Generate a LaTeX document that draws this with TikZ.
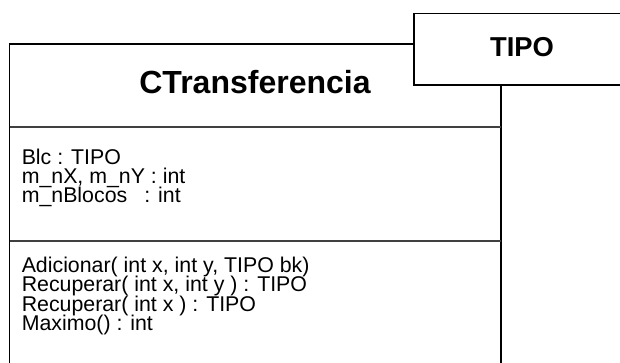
\documentclass[tikz,border=0pt]{standalone}
\usepackage{fontspec}
\setmainfont{Liberation Sans}
\begin{document}
\begin{tikzpicture}[x=0.75pt,y=-0.75pt,
  boxline/.style={line width=0.9pt,draw=black},
  sepline/.style={line width=1pt,draw=black!75},
  tipobox/.style={line width=1.4pt,draw=black,fill=white},
  member/.style={anchor=base west,inner sep=0pt,font=\fontsize{16}{19}\selectfont},
  title/.style={anchor=base,inner sep=0pt,font=\fontsize{24}{28}\bfseries\selectfont}]
\useasboundingbox (0,0) rectangle (620,362);
\clip (0,0) rectangle (620,362);
\fill[white] (0,0) rectangle (620,362);
% class box
\coordinate (clsTL) at (9.5,44);
\coordinate (clsBR) at (501,400);
\draw[boxline] (clsTL) rectangle (clsBR);
\coordinate (s1L) at (9.5,127);
\coordinate (s1R) at (501,127);
\coordinate (s2L) at (9.5,241);
\coordinate (s2R) at (501,241);
\draw[sepline] (s1L) -- (s1R);
\draw[sepline] (s2L) -- (s2R);
\node[title] (cname) at (255,93) {CTransferencia};
% template parameter box
\coordinate (tTL) at (414,13.5);
\coordinate (tBR) at (640,85);
\draw[tipobox] (tTL) rectangle (tBR);
\node[title,font=\fontsize{20.5}{24}\bfseries\selectfont] (tipo) at (522,56) {TIPO};
% attributes
\node[member] (a1) at (21.5,164) {Blc : TIPO};
\node[member] (a2) at (21.5,183.3) {m\_nX, m\_nY : int};
\node[member] (a3) at (21.5,202.6) {m\_nBlocos\hspace{0.8em}: int};
% methods
\node[member] (m1) at (21.5,272.5) {Adicionar( int x, int y, TIPO bk)};
\node[member] (m2) at (21.5,291.7) {Recuperar( int x, int y ) : TIPO};
\node[member] (m3) at (21.5,311) {Recuperar( int x ) : TIPO};
\node[member] (m4) at (21.5,330.3) {Maximo() : int};
\end{tikzpicture}
\end{document}
